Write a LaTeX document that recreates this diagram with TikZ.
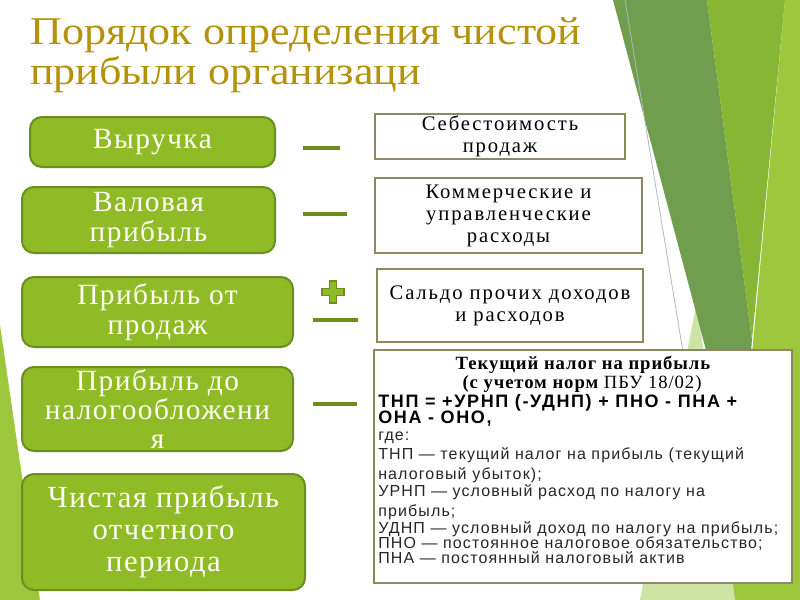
\documentclass[tikz,border=0pt]{standalone}
\usepackage{fontspec}
\setmainfont{Liberation Serif}
\newfontfamily\titlefont[FakeStretch=1.12]{Liberation Serif}
\newfontfamily\boxfont[LetterSpace=5]{Liberation Serif}
\newfontfamily\cellfont[LetterSpace=9]{Liberation Serif}
\newfontfamily\notefont[LetterSpace=7]{Liberation Sans}
\newfontfamily\formfont[LetterSpace=9]{Liberation Sans}
\definecolor{titlegold}{RGB}{180,146,12}
\definecolor{leaf}{RGB}{143,188,38}
\definecolor{leafdark}{RGB}{108,142,30}
\definecolor{frame}{RGB}{140,136,95}
\definecolor{bgdark}{RGB}{112,157,78}
\definecolor{bgmid}{RGB}{134,182,52}
\definecolor{bglight}{RGB}{157,200,62}
\definecolor{bgpale}{RGB}{205,228,165}
\definecolor{bgline}{RGB}{175,185,195}

\begin{document}
\begin{tikzpicture}[x=0.75pt,y=-0.75pt,
  gbox/.style={draw=leafdark,line width=1.5pt,fill=leaf,rounded corners=9pt,inner sep=0pt,align=center,text=white!96!yellow,font=\boxfont\fontsize{22}{22.5}\selectfont},
  wbox/.style={draw=frame,line width=2pt,fill=white,inner sep=0pt,align=center,font=\cellfont\fontsize{15.5}{16.5}\selectfont},
  minussign/.style={fill=leafdark,inner sep=0pt,minimum height=3pt},
  plussign/.style={draw=leafdark,line width=0.8pt,fill=leaf},
  titleline/.style={anchor=base west,inner sep=0pt,text=titlegold,font=\titlefont\fontsize{29.5}{30}\selectfont},
  headline/.style={anchor=base,inner sep=0pt,font=\boxfont\bfseries\fontsize{14}{16}\selectfont},
  formline/.style={anchor=base west,inner sep=0pt,font=\formfont\bfseries\fontsize{13.5}{15}\selectfont},
  noteline/.style={anchor=base west,inner sep=0pt,font=\notefont\fontsize{12}{14}\selectfont,text=black!85}]
  \useasboundingbox (0,0) rectangle (800,600);
  % background
  \fill[white] (0,0) rectangle (800,600);
  \fill[bglight] (785,0) -- (800,0) -- (800,600) -- (729,600) -- cycle;
  \fill[bgpale] (697,300) -- (735,600) -- (640,600) -- cycle;
  \fill[bgdark] (613,0) -- (707,0) -- (752,340) -- (740,478) -- cycle;
  \fill[bgmid] (707,0) -- (785,0) -- (752,340) -- cycle;
  \draw[bgline,line width=0.6pt] (625,0) -- (683,352);
  \fill[bglight] (0,325) -- (40,600) -- (0,600) -- cycle;

  % title
  \node[titleline] (title1) at (30,44) {Порядок определения чистой};
  \node[titleline] (title2) at (30,84) {прибыли организаци};

  % left column
  \node[gbox,minimum width=183.75pt,minimum height=37.5pt] (rev) at (152.5,142) {Выручка};
  \node[gbox,minimum width=189.75pt,minimum height=49.5pt] (gross) at (148.5,220) {Валовая\\прибыль};
  \node[gbox,minimum width=203.25pt,minimum height=52.5pt] (sales) at (157.5,312) {Прибыль от\\продаж};
  \node[gbox,minimum width=203.25pt,minimum height=63pt,font=\boxfont\fontsize{22}{21.5}\selectfont] (pretax) at (157.5,409) {Прибыль до\\налогообложени\\я};
  \node[gbox,minimum width=212.25pt,minimum height=87pt,font=\boxfont\fontsize{23}{24}\selectfont] (net) at (163.5,532) {Чистая прибыль\\отчетного\\периода};

  % signs
  \node[minussign,minimum width=27.75pt] (m1) at (321.5,148) {};
  \node[minussign,minimum width=33pt] (m2) at (325,214) {};
  \coordinate (pl) at (333,292);
  \draw[plussign] (pl) ++(-3.5,-11) -- ++(7,0) -- ++(0,7.5) -- ++(7.5,0) -- ++(0,7) -- ++(-7.5,0) -- ++(0,7.5) -- ++(-7,0) -- ++(0,-7.5) -- ++(-7.5,0) -- ++(0,-7) -- ++(7.5,0) -- cycle;
  \node[minussign,minimum width=33.75pt] (m3) at (335.5,320) {};
  \node[minussign,minimum width=33pt] (m4) at (335,404) {};

  % right column
  \node[wbox,minimum width=187.5pt,minimum height=33.75pt] (cost) at (500,136.5) {Себестоимость\\продаж};
  \node[wbox,minimum width=200.25pt,minimum height=56.25pt] (admin) at (508.5,215.5) {Коммерческие и\\управленческие\\расходы};
  \node[wbox,minimum width=199.5pt,minimum height=54.75pt] (other) at (510,305.5) {Сальдо прочих доходов\\и расходов};
  \node[wbox,minimum width=313.5pt,minimum height=174.75pt] (tax) at (583,466.5) {};

  \node[headline] (taxhead) at (583,369) {Текущий налог на прибыль};
  \node[headline] (taxnorm) at (582,388) {(с учетом норм \mdseries ПБУ 18/02)};
  \node[formline] (f1) at (378,407) {ТНП = +УРНП (-УДНП) + ПНО - ПНА +};
  \node[formline] (f2) at (378,423) {ОНА - ОНО,};
  \node[noteline] (w0) at (378,440) {где:};
  \node[noteline] (w1) at (378,459) {ТНП — текущий налог на прибыль (текущий};
  \node[noteline] (w2) at (378,479) {налоговый убыток);};
  \node[noteline] (w3) at (378,496) {УРНП — условный расход по налогу на};
  \node[noteline] (w4) at (378,516) {прибыль;};
  \node[noteline] (w5) at (378,533) {УДНП — условный доход по налогу на прибыль;};
  \node[noteline] (w6) at (378,548) {ПНО — постоянное налоговое обязательство;};
  \node[noteline] (w7) at (378,563) {ПНА — постоянный налоговый актив};
\end{tikzpicture}
\end{document}
